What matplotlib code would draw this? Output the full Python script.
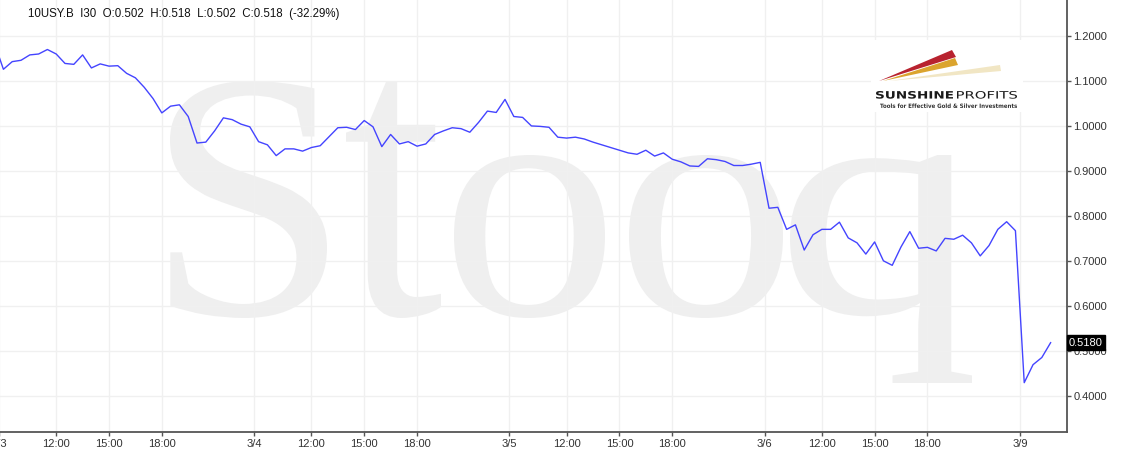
import numpy as np
import matplotlib
matplotlib.use("Agg")
import matplotlib.pyplot as plt
from matplotlib.ticker import FormatStrFormatter
from matplotlib.textpath import TextPath
from matplotlib.patches import PathPatch
from matplotlib.font_manager import FontProperties
from matplotlib.transforms import Affine2D

plt.rcParams['font.family'] = ['Liberation Sans', 'DejaVu Sans']

# 30-minute closes of 10USY.B, one value per bar (first one is the last bar of 3/2)
yields = [
    1.183,
    # 3/3
    1.126, 1.143, 1.146, 1.158, 1.160, 1.170, 1.160, 1.139, 1.137, 1.158,
    1.129, 1.138, 1.133, 1.134, 1.117, 1.107, 1.086, 1.061, 1.029, 1.044,
    1.047, 1.021, 0.962, 0.964, 0.989, 1.018, 1.014, 1.004, 0.998,
    # 3/4
    0.965, 0.958, 0.934, 0.949, 0.949, 0.944, 0.952, 0.956, 0.976, 0.996,
    0.997, 0.992, 1.012, 0.998, 0.954, 0.981, 0.960, 0.965, 0.955, 0.960,
    0.981, 0.989, 0.996, 0.994, 0.986, 1.008, 1.033, 1.030, 1.059,
    # 3/5
    1.021, 1.019, 1.000, 0.999, 0.997, 0.975, 0.973, 0.975, 0.971, 0.964,
    0.958, 0.952, 0.946, 0.940, 0.937, 0.946, 0.933, 0.940, 0.926, 0.920,
    0.911, 0.910, 0.927, 0.925, 0.921, 0.912, 0.912, 0.915, 0.919,
    # 3/6
    0.817, 0.819, 0.770, 0.780, 0.724, 0.758, 0.770, 0.770, 0.786, 0.751,
    0.740, 0.715, 0.742, 0.700, 0.690, 0.731, 0.765, 0.728, 0.730, 0.722,
    0.750, 0.748, 0.757, 0.740, 0.711, 0.734, 0.770, 0.787, 0.767,
    # 3/9
    0.429, 0.469, 0.485, 0.518,
]
day_labels = ['3/3', '3/4', '3/5', '3/6', '3/9']
hour_labels = ['12:00', '15:00', '18:00']
hour_offsets = [6, 12, 18]   # bars after 9:00
bars_per_day = 29
y_ticks = [0.4, 0.5, 0.6, 0.7, 0.8, 0.9, 1.0, 1.1, 1.2]
last_price = 0.518
title = '10USY.B  I30  O:0.502  H:0.518  L:0.502  C:0.518  (-32.29%)'

W, H = 1126, 462
fig = plt.figure(figsize=(W / 100, H / 100), dpi=100)


def fit_text(ax, s, x0, x1, ytop, ybot, family, weight='normal', color='k', z=1):
    # draw a string as a path stretched into a pixel box (y grows downwards)
    path = TextPath((0, 0), s, size=1, prop=FontProperties(family=family, weight=weight))
    ext = path.get_extents()
    tr = (Affine2D().translate(-ext.x0, -ext.y0)
          .scale((x1 - x0) / ext.width, -(ybot - ytop) / ext.height)
          .translate(x0, ybot))
    ax.add_patch(PathPatch(path, transform=tr + ax.transData, fc=color, ec='none', zorder=z))


# background layer in pixel coordinates (watermark, letter by letter)
bg = fig.add_axes([0, 0, 1, 1], zorder=0)
bg.set_xlim(0, W)
bg.set_ylim(H, 0)
bg.axis('off')
for ch, box in [('S', (170, 327, 81, 318)), ('t', (346, 441, 82, 318)),
                ('o', (454, 605, 155, 318)), ('o', (629, 783, 155, 318)),
                ('q', (790, 972, 155, 383))]:
    fit_text(bg, ch, *box, 'Liberation Serif', color='#efefef')

# main chart
left_px, right_px, bottom_px = -2, 1067, 432
ax = fig.add_axes([left_px / W, (H - bottom_px) / H, (right_px - left_px) / W, bottom_px / H],
                  zorder=1)
ax.patch.set_alpha(0)

x = np.arange(-1, len(yields) - 1)
ax.plot(x, yields, color='#4444ff', lw=1.0, zorder=3)

ax.set_xlim(-0.614, 120.86)
ax.set_ylim(0.3193, 1.2801)

ticks, labels = [], []
for d, lab in enumerate(day_labels):
    start = d * bars_per_day
    ticks.append(start - 0.5)
    labels.append(lab)
    if d < len(day_labels) - 1:
        for off, hl in zip(hour_offsets, hour_labels):
            ticks.append(start + off)
            labels.append(hl)
ax.set_xticks(ticks)
ax.set_xticklabels(labels)
ax.set_yticks(y_ticks)
ax.yaxis.set_major_formatter(FormatStrFormatter('%.4f'))
ax.yaxis.tick_right()

ax.grid(True, color='#f0f0f0', lw=1.0, zorder=0)
ax.set_axisbelow(True)
for side in ['left', 'top']:
    ax.spines[side].set_visible(False)
for side in ['right', 'bottom']:
    ax.spines[side].set_color('#555555')
    ax.spines[side].set_linewidth(1.3)
ax.tick_params(axis='both', colors='#555555', labelcolor='#333333', labelsize=8,
               length=3, width=1)
ax.tick_params(axis='y', pad=1.5)
ax.tick_params(axis='x', pad=2)

ax.annotate('0.5180', xy=(1, last_price), xycoords=('axes fraction', 'data'),
            xytext=(1.5, 0), textcoords='offset points', ha='left', va='center',
            fontsize=8, color='white', zorder=10, annotation_clip=False,
            bbox=dict(boxstyle='square,pad=0.2', fc='black', ec='black'))

# top layer: title and Sunshine Profits logo
top = fig.add_axes([0, 0, 1, 1], zorder=2)
top.set_xlim(0, W)
top.set_ylim(H, 0)
top.axis('off')
top.text(28, 14, title, fontsize=8.3, color='#111111', ha='left', va='center')

top.add_patch(plt.Rectangle((871, 40), 152, 72, color='white', lw=0))
top.add_patch(plt.Polygon([(879, 81), (952, 50), (956, 57)], color='#b8232f', lw=0))
top.add_patch(plt.Polygon([(883, 81), (955, 58), (958, 65)], color='#dba42e', lw=0))
top.add_patch(plt.Polygon([(889, 81), (1000, 65), (1001, 71)], color='#f1e6c4', lw=0))
fit_text(top, 'SUNSHINE', 876, 953, 91, 98.7, 'DejaVu Sans', 'bold', '#1a1a1a', 3)
fit_text(top, 'PROFITS', 957, 1017, 91, 98.7, 'DejaVu Sans', 'normal', '#1a1a1a', 3)
fit_text(top, 'Tools for Effective Gold & Silver Investments', 880, 1017, 103.5, 108,
         'DejaVu Sans', 'bold', '#333333', 3)

fig.savefig('out.png', dpi=100)
